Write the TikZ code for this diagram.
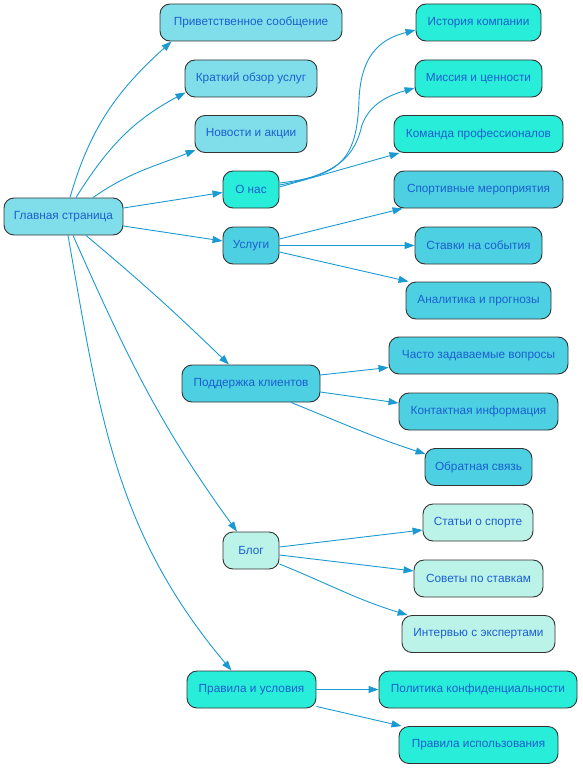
\documentclass[tikz,border=0pt]{standalone}
\usepackage{fontspec}
\setmainfont{Liberation Sans}
\usetikzlibrary{arrows.meta}
\definecolor{cA}{HTML}{80DEEA}
\definecolor{cB}{HTML}{28EDD8}
\definecolor{cC}{HTML}{4DD0E1}
\definecolor{cD}{HTML}{BCF3E8}
\definecolor{txt}{HTML}{1A5FD0}
\definecolor{edg}{HTML}{1B9AD2}
\definecolor{brd}{HTML}{333333}
\tikzset{
  box/.style={draw=brd, line width=0.9pt, rounded corners=10pt, minimum height=37pt, inner sep=0pt, text=txt, font=\fontsize{11.8}{13}\selectfont},
  ed/.style={draw=edg, line width=0.9pt, -{Triangle[length=10pt,width=7pt]}}
}
\begin{document}
\begin{tikzpicture}[x=1pt,y=1pt]
\useasboundingbox (0,0) rectangle (583,-768);
% nodes
\node[box, fill=cA, minimum width=119pt] (main) at (63.5,-216.5) {Главная страница};
\node[box, fill=cA, minimum width=182pt] (priv) at (251,-22.5) {Приветственное сообщение};
\node[box, fill=cA, minimum width=132pt] (krat) at (251,-78.5) {Краткий обзор услуг};
\node[box, fill=cA, minimum width=112pt] (nov) at (251,-134) {Новости и акции};
\node[box, fill=cB, minimum width=56pt] (onas) at (251,-189.5) {О нас};
\node[box, fill=cC, minimum width=56pt] (usl) at (251,-245.5) {Услуги};
\node[box, fill=cC, minimum width=138pt] (podd) at (251,-383.5) {Поддержка клиентов};
\node[box, fill=cD, minimum width=56pt] (blog) at (251,-550.5) {Блог};
\node[box, fill=cB, minimum width=129pt] (prav) at (251.5,-689.5) {Правила и условия};
\node[box, fill=cB, minimum width=125pt] (ist) at (478.5,-22.5) {История компании};
\node[box, fill=cB, minimum width=127pt] (mis) at (478.5,-78.5) {Миссия и ценности};
\node[box, fill=cB, minimum width=169pt] (kom) at (478.5,-134) {Команда профессионалов};
\node[box, fill=cC, minimum width=169pt] (sport) at (478.5,-189.5) {Спортивные мероприятия};
\node[box, fill=cC, minimum width=127pt] (stav) at (478.5,-245.5) {Ставки на события};
\node[box, fill=cC, minimum width=145pt] (anal) at (478.5,-300.5) {Аналитика и прогнозы};
\node[box, fill=cC, minimum width=179pt] (chasto) at (478.5,-355.5) {Часто задаваемые вопросы};
\node[box, fill=cC, minimum width=159pt] (kont) at (478.5,-411.5) {Контактная информация};
\node[box, fill=cC, minimum width=107pt] (obr) at (478.5,-467) {Обратная связь};
\node[box, fill=cD, minimum width=110pt] (stat) at (478,-522.5) {Статьи о спорте};
\node[box, fill=cD, minimum width=129pt] (sov) at (478.5,-578.5) {Советы по ставкам};
\node[box, fill=cD, minimum width=153pt] (intv) at (478.5,-634) {Интервью с экспертами};
\node[box, fill=cB, minimum width=198pt] (pol) at (478,-689.5) {Политика конфиденциальности};
\node[box, fill=cB, minimum width=159pt] (prisp) at (478.5,-745) {Правила использования};
% edges from main
\draw[ed] ([xshift=6.5pt]main.north) to[out=74,in=222] ([xshift=12pt]priv.south west);
\draw[ed] ([xshift=12.5pt]main.north) to[out=58,in=208] ([xshift=1pt,yshift=5pt]krat.south west);
\draw[ed] ([xshift=29.5pt]main.north) to[out=35,in=202] ([xshift=1pt,yshift=3pt]nov.south west);
\draw[ed] ([yshift=8.5pt]main.east) -- ([yshift=-3pt]onas.west);
\draw[ed] ([yshift=-9.5pt]main.east) -- ([yshift=4.5pt]usl.west);
\draw[ed] ([xshift=22.5pt]main.south) to[out=-40,in=136] ([xshift=-22pt]podd.north);
\draw[ed] ([xshift=9.5pt]main.south) to[out=-66,in=126] ([xshift=-14pt]blog.north);
\draw[ed] ([xshift=4.5pt]main.south) to[out=-80,in=130] ([xshift=-20pt]prav.north);
% О нас
\draw[ed] ([yshift=6.5pt]onas.east) .. controls (340,-176) and (357,-160) .. (359,-100) .. controls (361,-50) and (385,-38) .. ([yshift=-7.5pt]ist.west);
\draw[ed] ([yshift=4.5pt]onas.east) .. controls (340,-174) and (355,-155) .. (362,-125) .. controls (370,-103) and (390,-95) .. ([yshift=-9.5pt]mis.west);
\draw[ed] ([yshift=2.5pt]onas.east) -- ([xshift=6pt]kom.south west);
% Услуги
\draw[ed] ([yshift=6.5pt]usl.east) -- ([xshift=9pt]sport.south west);
\draw[ed] (usl.east) -- (stav.west);
\draw[ed] ([yshift=-6.5pt]usl.east) -- ([xshift=3pt]anal.north west);
% Поддержка
\draw[ed] ([yshift=8.5pt]podd.east) -- ([yshift=-12pt]chasto.west);
\draw[ed] ([yshift=-8.5pt]podd.east) -- ([yshift=8.5pt]kont.west);
\draw[ed] ([xshift=40pt]podd.south) to[out=-22,in=162] ([xshift=1pt,yshift=-6pt]obr.north west);
% Блог
\draw[ed] ([yshift=3.5pt]blog.east) -- ([yshift=-7.5pt]stat.west);
\draw[ed] ([yshift=-4.5pt]blog.east) -- ([yshift=7.5pt]sov.west);
\draw[ed] ([yshift=-13.5pt]blog.east) to[out=-22,in=163] ([xshift=6pt]intv.north west);
% Правила
\draw[ed] (prav.east) -- (pol.west);
\draw[ed] ([yshift=2pt]prav.south east) -- ([xshift=3pt]prisp.north west);
\end{tikzpicture}
\end{document}
